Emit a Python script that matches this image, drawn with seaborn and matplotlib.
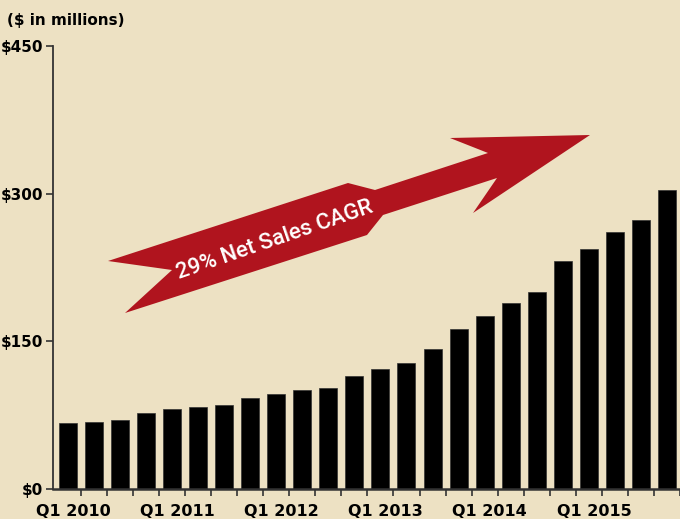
import matplotlib
matplotlib.use("Agg")
import matplotlib.pyplot as plt
from matplotlib.patches import Polygon
import seaborn as sns
import pandas as pd

# quarterly net sales ($ in millions)
quarters = [f"Q{q} {y}" for y in range(2010, 2016) for q in range(1, 5)]
net_sales = [67, 68, 70, 77, 81, 83, 85, 92, 97, 101, 103, 115,
             122, 128, 142, 163, 176, 189, 200, 232, 244, 261, 273, 304]
tick_years = ["Q1 2010", "Q1 2011", "Q1 2012", "Q1 2013", "Q1 2014", "Q1 2015"]
y_ticks = [0, 150, 300, 450]
y_labels = ["$0", "$150", "$300", "$450"]

df = pd.DataFrame({"quarter": quarters, "sales": net_sales})

bg = "#ede1c3"
red = "#b0141e"

sns.set_style("ticks")
plt.rcParams["font.family"] = ["DejaVu Sans"]
plt.rcParams["text.color"] = "black"

fig = plt.figure(figsize=(6.8, 5.19), dpi=100)
fig.patch.set_facecolor(bg)
ax = fig.add_axes([53 / 680, 1 - 489 / 519, 1 - 53 / 680, (489 - 46) / 519])
ax.set_facecolor(bg)

sns.barplot(data=df, x="quarter", y="sales", color="black", width=0.69,
            saturation=1, edgecolor="#333333", linewidth=0.5, ax=ax)

ax.set_xlim(-0.57, 23.46)
ax.set_ylim(0, 450)
ax.set_xlabel("")
ax.set_ylabel("")

# labels every 4th quarter (sitting a touch right of the bar), ticks between bars
ax.set_xticks([i + 0.2 for i in range(0, 24, 4)])
ax.set_xticklabels(tick_years, fontsize=11.5, fontweight="bold", color="black")
ax.set_xticks([i - 0.5 for i in range(1, 25)], minor=True)
ax.tick_params(axis="x", which="major", length=0, pad=11)
ax.tick_params(axis="x", which="minor", length=5, width=1.2, color="#333333")

ax.set_yticks(y_ticks)
ax.set_yticklabels(y_labels, fontsize=11, fontweight="bold", color="black")
ax.tick_params(axis="y", length=5, width=1.2, color="#333333", pad=2)

sns.despine(ax=ax)
for s in ["left", "bottom"]:
    ax.spines[s].set_color("#333333")
    ax.spines[s].set_linewidth(1.3)
ax.spines["bottom"].set_linewidth(1.8)

fig.text(7 / 680, 1 - 20 / 519, "($ in millions)", fontsize=11,
         fontweight="bold", color="black", va="center", ha="left")

# banner arrow (pixel outline of the decoration)
arrow_px = [(108, 261), (348, 183), (375, 190), (488, 153), (450, 138),
            (590, 135), (473, 213), (497, 178), (383, 215), (367, 235),
            (125, 313), (172, 270)]
arrow_fig = [(x / 680, 1 - y / 519) for x, y in arrow_px]
fig.patches.append(Polygon(arrow_fig, closed=True, facecolor=red,
                           edgecolor="none", transform=fig.transFigure,
                           zorder=5))
fig.text(275 / 680, 1 - 240 / 519, "29% Net Sales CAGR", fontsize=16,
         color="white", rotation=19, ha="center", va="center",
         rotation_mode="anchor", family=["Roboto", "DejaVu Sans"],
         fontweight="medium", zorder=6)

fig.savefig("out.png", dpi=100, facecolor=bg)
